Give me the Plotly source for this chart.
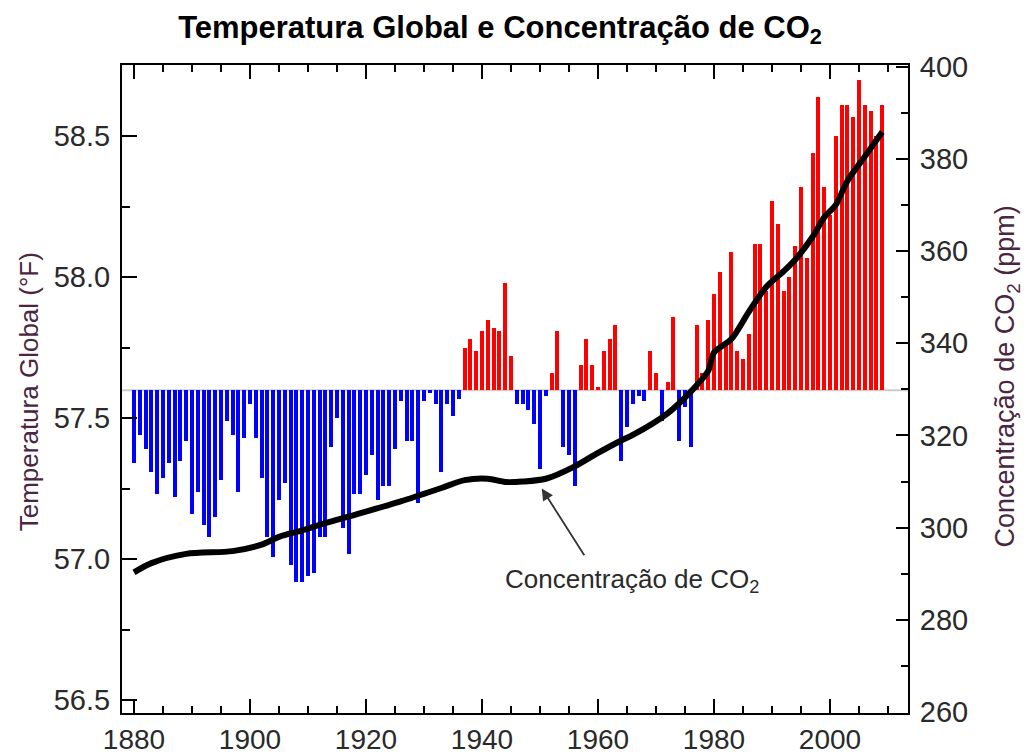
import plotly.graph_objects as go

# annual global temperature (°F), 1880-2009
years = list(range(1880, 2010))
temps = [
    57.34, 57.44, 57.39, 57.31, 57.23, 57.29, 57.34, 57.22, 57.35, 57.42,  # 1880s
    57.16, 57.24, 57.12, 57.08, 57.15, 57.28, 57.49, 57.44, 57.24, 57.43,  # 1890s
    57.55, 57.43, 57.29, 57.08, 57.01, 57.21, 57.27, 56.98, 56.92, 56.92,  # 1900s
    56.94, 56.95, 57.08, 57.08, 57.40, 57.50, 57.11, 57.02, 57.23, 57.23,  # 1910s
    57.30, 57.37, 57.21, 57.26, 57.26, 57.39, 57.56, 57.42, 57.42, 57.20,  # 1920s
    57.56, 57.59, 57.55, 57.31, 57.55, 57.51, 57.57, 57.75, 57.78, 57.74,  # 1930s
    57.81, 57.85, 57.82, 57.81, 57.98, 57.72, 57.55, 57.55, 57.53, 57.48,  # 1940s
    57.32, 57.58, 57.66, 57.81, 57.40, 57.37, 57.26, 57.69, 57.78, 57.69,  # 1950s
    57.61, 57.74, 57.78, 57.83, 57.35, 57.47, 57.55, 57.58, 57.56, 57.74,  # 1960s
    57.66, 57.49, 57.63, 57.86, 57.42, 57.54, 57.40, 57.83, 57.66, 57.85,  # 1970s
    57.94, 58.02, 57.77, 58.09, 57.74, 57.71, 57.80, 58.12, 58.12, 57.95,  # 1980s
    58.27, 58.19, 57.95, 58.00, 58.11, 58.32, 58.07, 58.44, 58.64, 58.32,  # 1990s
    58.22, 58.50, 58.61, 58.61, 58.57, 58.70, 58.61, 58.59, 58.50, 58.61,  # 2000s
]
baseline = 57.6

# CO2 concentration (ppm)
co2_years = [1880, 1883, 1889, 1897, 1902, 1905, 1909, 1912, 1917, 1926,
             1933, 1937, 1941, 1944, 1947, 1951, 1956, 1960, 1964, 1966,
             1972, 1976, 1979, 1980, 1983, 1986, 1989, 1992, 1994, 1997,
             1999, 2001, 2003, 2006, 2009]
co2_ppm = [290.3, 292.3, 294.3, 294.9, 296.3, 298.0, 299.4, 300.6, 302.4, 305.7,
           308.6, 310.3, 310.6, 309.9, 310.0, 310.6, 313.3, 316.2, 318.9, 320.1,
           324.8, 329.5, 334.0, 338.0, 340.9, 346.8, 352.2, 355.6, 358.1, 363.1,
           367.3, 370.0, 375.2, 380.5, 385.8]

FONT = "Liberation Sans, Arial, sans-serif"
TICK_COLOR = "#2a2a2a"
TITLE_COLOR = "#4a2640"

bar_colors = ["#ff0000" if t >= baseline else "#0000ff" for t in temps]

fig = go.Figure()

# temperature bars, drawn from the 57.6 baseline
fig.add_trace(go.Bar(
    x=years, y=[t - baseline for t in temps], base=baseline,
    marker=dict(color=bar_colors, line=dict(width=0)),
    width=0.7, yaxis="y", showlegend=False,
))

# co2 curve
fig.add_trace(go.Scatter(
    x=co2_years, y=co2_ppm, mode="lines", yaxis="y2",
    line=dict(color="black", width=6, shape="spline", smoothing=0.8),
    showlegend=False,
))

# light grey baseline
fig.add_shape(type="line", xref="paper", x0=0, x1=1, yref="y",
              y0=baseline, y1=baseline, line=dict(color="#cccccc", width=2),
              layer="below")

# page body has an 8px margin, so the figure is 8px smaller than the window
fig.update_layout(
    width=1022, height=748,
    margin=dict(l=114, r=122, t=57, b=43),
    paper_bgcolor="white", plot_bgcolor="white",
    bargap=0,
    font=dict(family=FONT, color=TICK_COLOR),
    title=dict(text="<b>Temperatura Global e Concentração de CO<sub>2</sub></b>",
               x=0.4814, xanchor="center", y=0.9746, yanchor="middle",
               yref="container", font=dict(size=31, color="black")),
    xaxis=dict(range=[1877.93, 2013.45], showgrid=False, zeroline=False,
               automargin=False,
               showline=True, linecolor="black", linewidth=2, mirror="ticks",
               ticks="inside", ticklen=14, tickwidth=2, tickcolor="black",
               tick0=1880, dtick=20,
               minor=dict(ticks="inside", dtick=5, tick0=1880, ticklen=7,
                          tickwidth=2, tickcolor="black"),
               tickfont=dict(size=28, color=TICK_COLOR)),
    yaxis=dict(range=[56.455, 58.753], showgrid=False, zeroline=False,
               automargin=False,
               showline=True, linecolor="black", linewidth=2,
               ticks="inside", ticklen=15, tickwidth=2, tickcolor="black",
               tick0=56.5, dtick=0.5, tickformat=".1f",
               minor=dict(ticks="inside", dtick=0.25, tick0=56.5, ticklen=8,
                          tickwidth=2, tickcolor="black"),
               tickfont=dict(size=29, color=TICK_COLOR), ticklabelstandoff=4),
    yaxis2=dict(range=[259.79, 400.35], overlaying="y", side="right",
                showgrid=False, zeroline=False, automargin=False,
                showline=True, linecolor="black", linewidth=2,
                ticks="inside", ticklen=12, tickwidth=2, tickcolor="black",
                tick0=260, dtick=20,
                minor=dict(ticks="inside", dtick=10, tick0=260, ticklen=7,
                           tickwidth=2, tickcolor="black"),
                tickfont=dict(size=29, color=TICK_COLOR), ticklabelstandoff=4),
)

# axis titles
fig.add_annotation(text="Temperatura Global (°F)", xref="paper", yref="paper",
                   x=-0.1183, y=0.495, xanchor="center", yanchor="middle",
                   textangle=-90, showarrow=False,
                   font=dict(size=26, color=TITLE_COLOR))
fig.add_annotation(text="Concentração de CO<sub>2</sub> (ppm)", xref="paper", yref="paper",
                   x=1.1265, y=0.52, xanchor="center", yanchor="middle",
                   textangle=-90, showarrow=False,
                   font=dict(size=27, color=TITLE_COLOR))

# curve label and arrow
fig.add_annotation(text="Concentração de CO<sub>2</sub>", xref="x", yref="y2",
                   x=1965.8, y=288.6, showarrow=False,
                   font=dict(size=26, color=TICK_COLOR))
fig.add_annotation(text="", xref="x", yref="y2", x=1950.3, y=308.5,
                   axref="x", ayref="y2", ax=1957.8, ay=293.7,
                   showarrow=True, arrowhead=2, arrowsize=1.3, arrowwidth=1.8,
                   arrowcolor="#333333")

fig.write_html("out.html")
